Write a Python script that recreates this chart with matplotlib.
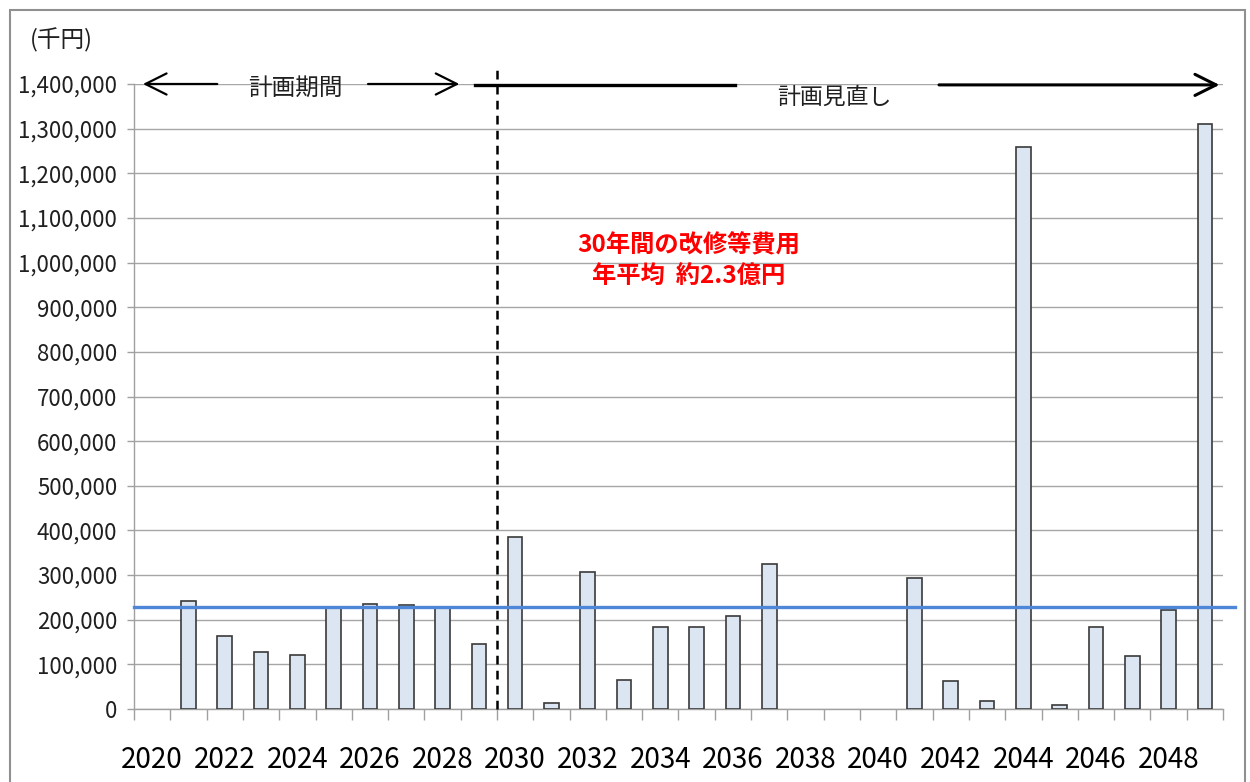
import matplotlib
matplotlib.use("Agg")
import matplotlib.pyplot as plt
from matplotlib.patches import Rectangle
import numpy as np

plt.rcParams['font.family'] = ['Noto Sans CJK JP', 'DejaVu Sans']

# data (千円)
years = list(range(2020, 2050))
costs = [0, 242000, 163000, 128000, 121000, 228000, 236000, 234000, 228000, 146000,
         386000, 13000, 308000, 66000, 184000, 184000, 209000, 325000, 0, 0,
         0, 293000, 63000, 18000, 1259000, 10000, 184000, 119000, 222000, 1310000]
tick_years = [str(y) for y in range(2020, 2050, 2)]
y_ticks = list(range(0, 1400001, 100000))
avg = np.mean(costs)

fig = plt.figure(figsize=(12.5, 7.82), dpi=100)
ax = fig.add_axes([134/1250, 1-709/782, (1223-134)/1250, (709-84)/782])

x = np.arange(len(years))
vals = np.array(costs)
# years with no cost get no bar outline
lws = [1.2 if v > 0 else 0 for v in vals]
ax.bar(x, vals, width=0.4, color='#dce6f2', edgecolor='#3a3a3a', linewidth=lws, zorder=3)

# average line
ax.plot([-0.5, 29.83], [avg, avg], color='#4f87d8', lw=2.4, zorder=4, clip_on=False)

ax.set_xlim(-0.5, len(years)-0.5)
ax.set_ylim(0, 1400000)
ax.set_yticks(y_ticks)
ax.set_yticklabels([f"{v:,}" for v in y_ticks], fontsize=16, color='#202020')
ax.set_xticks(x[::2])
ax.set_xticklabels(tick_years, fontsize=20, color='black')
ax.set_xticks(np.arange(-0.5, len(years)), minor=True)
ax.tick_params(axis='x', which='major', length=0, pad=26)
ax.tick_params(axis='x', which='minor', length=8, color='#a0a0a0', width=1)
ax.tick_params(axis='y', length=5, color='#a0a0a0', width=1, pad=7)
ax.grid(axis='y', color='#a6a6a6', lw=1, zorder=0)
for s in ['top', 'right']:
    ax.spines[s].set_visible(False)
for s in ['left', 'bottom']:
    ax.spines[s].set_color('#a0a0a0')
    ax.spines[s].set_linewidth(1)

# plan split line
ax.plot([9.5, 9.5], [0, 1431000], color='black', lw=1.8, ls=(0, (3.5, 2.5)), zorder=5, clip_on=False)

# arrows
ap = dict(arrowstyle='->', color='black', lw=1.6, mutation_scale=38)
ax.annotate('', xy=(-0.33, 1400000), xytext=(1.87, 1400000), arrowprops=ap, annotation_clip=False, zorder=6)
ax.annotate('', xy=(8.54, 1400000), xytext=(5.87, 1400000), arrowprops=ap, annotation_clip=False, zorder=6)
ax.text(3.94, 1391000, '計画期間', ha='center', va='center', fontsize=17, color='#202020')
ax.plot([8.9, 16.06], [1398000, 1398000], color='black', lw=2.4, zorder=6, clip_on=False)
ax.annotate('', xy=(29.48, 1398000), xytext=(21.6, 1398000),
            arrowprops=dict(arrowstyle='->', color='black', lw=2.2, mutation_scale=38),
            annotation_clip=False, zorder=6)
ax.text(18.8, 1371000, '計画見直し', ha='center', va='center', fontsize=16.5, color='#202020')

ax.text(14.77, 1003000, '30年間の改修等費用\n年平均  約2.3億円', ha='center', va='center',
        fontsize=17.5, color='#ff0000', fontweight='bold', linespacing=1.4, zorder=6)

fig.text(30/1250, 1-40/782, '(千円)', ha='left', va='center', fontsize=17, color='#202020')

# outer frame
fig.patches.append(Rectangle((10/1250, -0.02), 1235/1250, 1-10/782+0.02, transform=fig.transFigure,
                             fill=False, edgecolor='#909090', lw=1.5))

fig.savefig('out.png', dpi=100)
